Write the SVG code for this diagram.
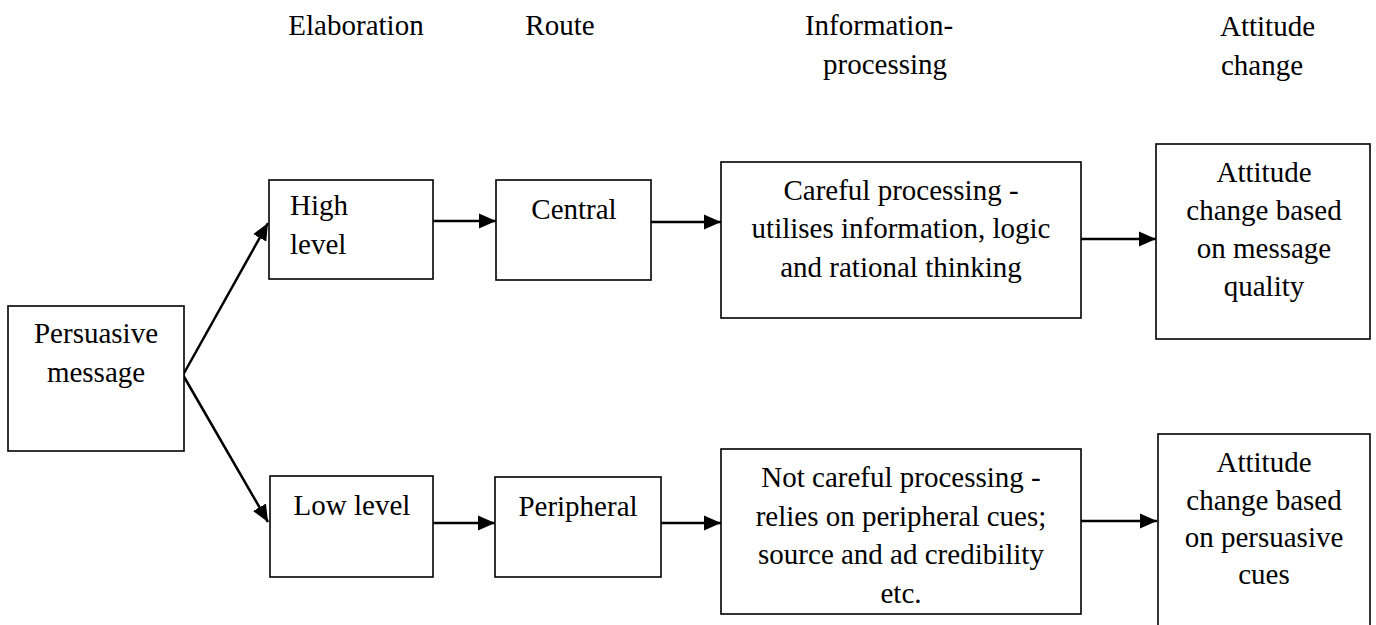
<svg xmlns="http://www.w3.org/2000/svg" width="1376" height="625" viewBox="0 0 1376 625" font-family="Liberation Serif, Times New Roman, serif" font-size="29">
<style>
.t{font-family:'Liberation Serif','Times New Roman',serif;font-size:29px;fill:#000}
.c{text-anchor:middle}
.box{fill:#fff;stroke:#000;stroke-width:1.6}
.arr{stroke:#000;stroke-width:2.5;fill:none;marker-end:url(#ah)}
</style>
<defs>
<marker id="ah" markerUnits="userSpaceOnUse" markerWidth="17" markerHeight="16" viewBox="0 0 17 16" refX="17" refY="8" orient="auto">
<path d="M0,0.5 L17,8 L0,15.5 Z" fill="#000"/>
</marker>
</defs>
<rect width="1376" height="625" fill="#fff"/>
<g id="headers" class="t">
<text x="356" y="35" class="c">Elaboration</text>
<text x="560" y="35" class="c">Route</text>
<text x="879" y="35" class="c">Information-</text>
<text x="885" y="74" class="c">processing</text>
<text x="1220" y="36">Attitude</text>
<text x="1221" y="75">change</text>
</g>
<g id="connectors">
<line class="arr" x1="183" y1="375" x2="268" y2="223"/>
<line class="arr" x1="183" y1="375" x2="268" y2="522"/>
<line class="arr" x1="433" y1="221" x2="496" y2="221"/>
<line class="arr" x1="651" y1="222" x2="721" y2="222"/>
<line class="arr" x1="1081" y1="239" x2="1156" y2="239"/>
<line class="arr" x1="433" y1="523" x2="495" y2="523"/>
<line class="arr" x1="661" y1="523" x2="721" y2="523"/>
<line class="arr" x1="1081" y1="521" x2="1157" y2="521"/>
</g>
<g id="persuasive" class="t">
<rect class="box" x="8" y="306" width="176" height="145"/>
<text x="96" y="343" class="c">Persuasive</text>
<text x="96" y="382" class="c">message</text>
</g>
<g id="high" class="t">
<rect class="box" x="269" y="180" width="164" height="99"/>
<text x="290" y="215">High</text>
<text x="290" y="254">level</text>
</g>
<g id="low" class="t">
<rect class="box" x="270" y="476" width="163" height="101"/>
<text x="352" y="515" class="c">Low level</text>
</g>
<g id="central" class="t">
<rect class="box" x="496" y="180" width="155" height="100"/>
<text x="574" y="219" class="c">Central</text>
</g>
<g id="peripheral" class="t">
<rect class="box" x="495" y="477" width="166" height="100"/>
<text x="578" y="516" class="c">Peripheral</text>
</g>
<g id="careful" class="t">
<rect class="box" x="721" y="162" width="360" height="156"/>
<text x="901" y="200" class="c">Careful processing -</text>
<text x="901" y="238" class="c">utilises information, logic</text>
<text x="901" y="277" class="c">and rational thinking</text>
</g>
<g id="notcareful" class="t">
<rect class="box" x="721" y="449" width="360" height="165"/>
<text x="901" y="487" class="c">Not careful processing -</text>
<text x="901" y="526" class="c">relies on peripheral cues;</text>
<text x="901" y="564" class="c">source and ad credibility</text>
<text x="901" y="603" class="c">etc.</text>
</g>
<g id="attitude-quality" class="t">
<rect class="box" x="1156" y="144" width="214" height="195"/>
<text x="1264" y="182" class="c">Attitude</text>
<text x="1264" y="220" class="c">change based</text>
<text x="1264" y="258" class="c">on message</text>
<text x="1264" y="296" class="c">quality</text>
</g>
<g id="attitude-cues" class="t">
<rect class="box" x="1158" y="434" width="212" height="210"/>
<text x="1264" y="472" class="c">Attitude</text>
<text x="1264" y="510" class="c">change based</text>
<text x="1264" y="547" class="c">on persuasive</text>
<text x="1264" y="584" class="c">cues</text>
</g>
</svg>
